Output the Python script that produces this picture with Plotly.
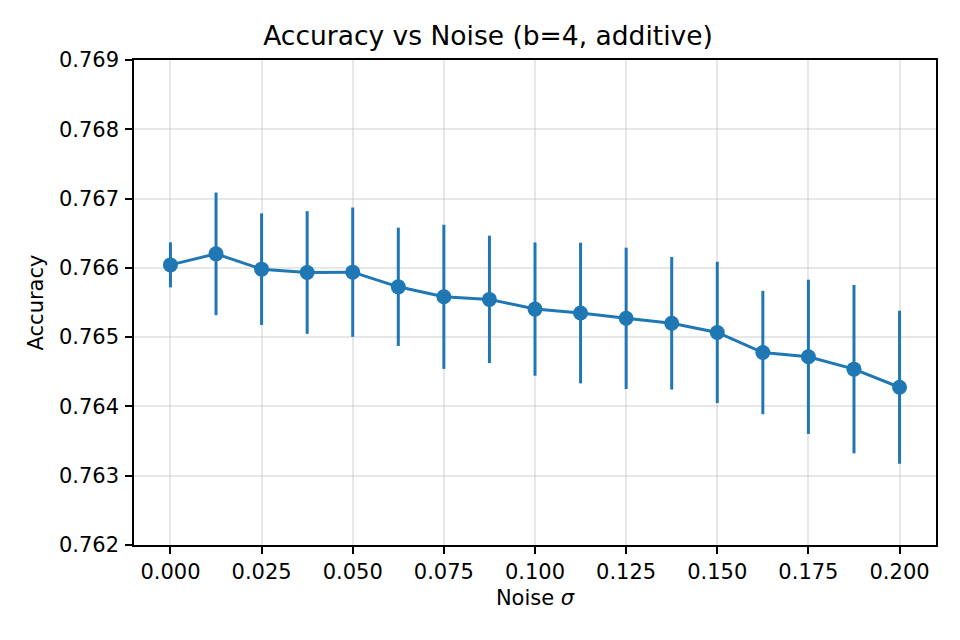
import plotly.graph_objects as go

noise = [0.0, 0.0125, 0.025, 0.0375, 0.05, 0.0625, 0.075, 0.0875, 0.1,
         0.1125, 0.125, 0.1375, 0.15, 0.1625, 0.175, 0.1875, 0.2]
acc = [0.766043, 0.766202, 0.765981, 0.765933, 0.765938, 0.765726, 0.765582,
       0.765545, 0.765405, 0.765348, 0.765272, 0.765200, 0.765068, 0.764778,
       0.764716, 0.764538, 0.764277]
err = [0.000325, 0.000885, 0.000805, 0.000885, 0.000933, 0.000854, 0.001040,
       0.000920, 0.000962, 0.001015, 0.001020, 0.000957, 0.001020, 0.000890,
       0.001113, 0.001215, 0.001104]

xticks = [0.0, 0.025, 0.05, 0.075, 0.1, 0.125, 0.15, 0.175, 0.2]
yticks = [0.762, 0.763, 0.764, 0.765, 0.766, 0.767, 0.768, 0.769]

blue = "#1f77b4"

fig = go.Figure()
fig.add_trace(go.Scatter(
    x=noise, y=acc, mode="lines+markers",
    line=dict(color=blue, width=3),
    marker=dict(color=blue, size=15),
    error_y=dict(type="data", array=err, visible=True, color=blue,
                 thickness=3, width=0),
    showlegend=False,
))

# matplotlib-ish box + faint grid
axis_common = dict(
    showline=True, linecolor="black", linewidth=1.6, mirror=True,
    ticks="outside", ticklen=7, tickwidth=1.6, tickcolor="black",
    showgrid=True, gridcolor="rgba(176,176,176,0.3)", gridwidth=1.6,
    zeroline=False, tickfont=dict(size=21, color="black"),
)

fig.update_xaxes(range=[-0.01, 0.21], tickvals=xticks, tickformat=".3f",
                 title=dict(text="Noise <i>σ</i>", font=dict(size=21, color="black"),
                            standoff=7),
                 **axis_common)
fig.update_yaxes(range=[0.762, 0.769], tickvals=yticks, tickformat=".3f",
                 ticklabelstandoff=2,
                 title=dict(text="Accuracy", font=dict(size=21, color="black"),
                            standoff=10),
                 **axis_common)

fig.update_layout(
    width=960, height=640,
    font=dict(family="DejaVu Sans", color="black"),
    title=dict(text="Accuracy vs Noise (b=4, additive)", x=0.5, xanchor="center",
               y=1 - 28 / 640, yanchor="middle", font=dict(size=26.5, color="black")),
    plot_bgcolor="white", paper_bgcolor="white",
    margin=dict(l=126, r=32, t=52, b=103),
)

fig.write_html("out.html")
